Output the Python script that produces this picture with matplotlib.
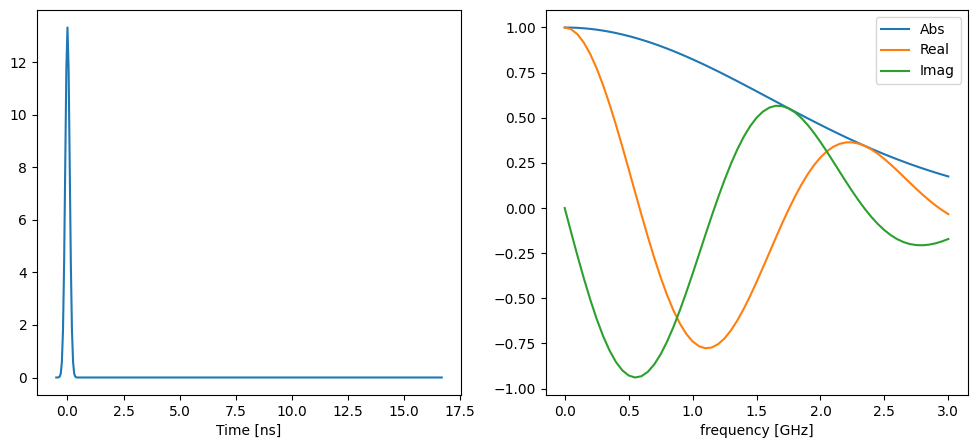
import matplotlib
matplotlib.use("Agg")
import matplotlib.pyplot as plt

# Left panel: pulse in time domain
time_ns = [-0.5, -0.45, -0.4, -0.35, -0.3, -0.25, -0.2, -0.15, -0.1, -0.05, 0.0,
           0.05, 0.1, 0.15, 0.2, 0.25, 0.3, 0.35, 0.4, 0.45, 0.5, 16.7]
pulse = [0.0, 0.0005, 0.0045, 0.029, 0.148, 0.586, 1.804, 4.328, 8.085, 11.76, 13.33,
         11.76, 8.085, 4.328, 1.804, 0.586, 0.148, 0.029, 0.0045, 0.0005, 0.0, 0.0]

# Right panel: spectrum
freq_ghz = [0.0, 0.05, 0.1, 0.15, 0.2, 0.25, 0.3, 0.35, 0.4, 0.45, 0.5,
            0.55, 0.6, 0.65, 0.7, 0.75, 0.8, 0.85, 0.9, 0.95, 1.0,
            1.05, 1.1, 1.15, 1.2, 1.25, 1.3, 1.35, 1.4, 1.45, 1.5,
            1.55, 1.6, 1.65, 1.7, 1.75, 1.8, 1.85, 1.9, 1.95, 2.0,
            2.05, 2.1, 2.15, 2.2, 2.25, 2.3, 2.35, 2.4, 2.45, 2.5,
            2.55, 2.6, 2.65, 2.7, 2.75, 2.8, 2.85, 2.9, 2.95, 3.0]
spec_abs = [1.0, 0.9995, 0.9981, 0.9957, 0.9923, 0.9880, 0.9827, 0.9766, 0.9695, 0.9615, 0.9527,
            0.9431, 0.9326, 0.9214, 0.9095, 0.8968, 0.8834, 0.8694, 0.8548, 0.8396, 0.8239,
            0.8077, 0.7911, 0.7740, 0.7566, 0.7389, 0.7208, 0.7026, 0.6841, 0.6655, 0.6468,
            0.6279, 0.6090, 0.5902, 0.5713, 0.5525, 0.5339, 0.5154, 0.4969, 0.4788, 0.4608,
            0.4431, 0.4256, 0.4084, 0.3916, 0.3751, 0.3589, 0.3431, 0.3277, 0.3126, 0.2980,
            0.2838, 0.2700, 0.2566, 0.2436, 0.2311, 0.2190, 0.2074, 0.1961, 0.1853, 0.1749]
spec_real = [1.0, 0.9905, 0.9624, 0.9161, 0.8529, 0.7740, 0.6812, 0.5768, 0.4627, 0.3418, 0.2165,
             0.0897, -0.0363, -0.1587, -0.2750, -0.3831, -0.4808, -0.5665, -0.6387, -0.6964, -0.7387,
             -0.7655, -0.7768, -0.7728, -0.7543, -0.7223, -0.6781, -0.6231, -0.5590, -0.4875, -0.4107,
             -0.3303, -0.2484, -0.1663, -0.0862, -0.0096, 0.0622, 0.1280, 0.1866, 0.2376, 0.2802,
             0.3140, 0.3390, 0.3554, 0.3636, 0.3637, 0.3566, 0.3430, 0.3237, 0.2996, 0.2716,
             0.2407, 0.2078, 0.1738, 0.1396, 0.1059, 0.0734, 0.0428, 0.0144, -0.0112, -0.0339]
spec_imag = [0.0, -0.1336, -0.2646, -0.3900, -0.5073, -0.6141, -0.7083, -0.7881, -0.8520, -0.8987, -0.9277,
             -0.9389, -0.9319, -0.9077, -0.8669, -0.8109, -0.7411, -0.6595, -0.5681, -0.4691, -0.3648,
             -0.2576, -0.1498, -0.0435, 0.0589, 0.1555, 0.2446, 0.3247, 0.3945, 0.4529, 0.4997,
             0.5340, 0.5561, 0.5663, 0.5647, 0.5524, 0.5303, 0.4993, 0.4605, 0.4157, 0.3658,
             0.3127, 0.2573, 0.2011, 0.1456, 0.0916, 0.0403, -0.0074, -0.0509, -0.0894, -0.1226,
             -0.1503, -0.1724, -0.1888, -0.1997, -0.2054, -0.2063, -0.2029, -0.1956, -0.1850, -0.1716]

fig = plt.figure(figsize=(9.77, 4.48), dpi=100)
ax1 = fig.add_axes([37 / 977, 53 / 448, 424 / 977, 385 / 448])
ax2 = fig.add_axes([545.5 / 977, 53 / 448, 422 / 977, 385 / 448])

ax1.plot(time_ns, pulse)
ax1.set_xlabel("Time [ns]")

ax2.plot(freq_ghz, spec_abs, label="Abs")
ax2.plot(freq_ghz, spec_real, label="Real")
ax2.plot(freq_ghz, spec_imag, label="Imag")
ax2.set_xlabel("frequency [GHz]")
ax2.legend(loc="upper right")

fig.savefig("out.png", dpi=100)
